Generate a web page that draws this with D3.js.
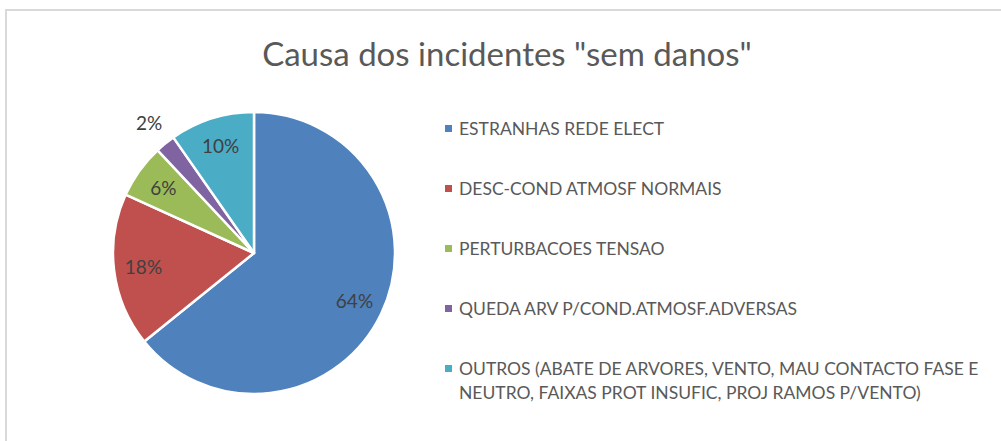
<!DOCTYPE html>
<html><head><meta charset="utf-8">
<script src="https://cdn.jsdelivr.net/npm/d3@7"></script>
<style>body{margin:0;background:#fff}svg{display:block}</style>
</head><body>
<svg id="c" width="1001" height="441"></svg>
<script>
const title = 'Causa dos incidentes "sem danos"';
const categories = [
  "ESTRANHAS REDE ELECT",
  "DESC-COND ATMOSF NORMAIS",
  "PERTURBACOES TENSAO",
  "QUEDA ARV P/COND.ATMOSF.ADVERSAS",
  "OUTROS (ABATE DE ARVORES, VENTO, MAU CONTACTO FASE E|NEUTRO, FAIXAS PROT INSUFIC, PROJ RAMOS P/VENTO)"
];
const values = [64.2, 17.6, 6.2, 2.3, 9.7];
const labels = ["64%", "18%", "6%", "2%", "10%"];
const colors = ["#4f81bd", "#c0504d", "#9bbb59", "#8064a2", "#4bacc6"];

const svg = d3.select("#c");
const font = "Lato, 'Open Sans', sans-serif";
const txt = "#595959";

svg.append("rect").attr("x", 6).attr("y", 10).attr("width", 1010).attr("height", 450)
  .attr("fill", "#fff").attr("stroke", "#d9d9d9").attr("stroke-width", 2);

svg.append("text").attr("x", 507).attr("y", 66).attr("text-anchor", "middle")
  .attr("font-family", font).attr("font-size", 33).attr("fill", txt).text(title);

const cx = 254, cy = 253, r = 141;
const pie = d3.pie().sort(null).value(d => d);
const arcs = pie(values);
const arc = d3.arc().innerRadius(0).outerRadius(r);
const g = svg.append("g").attr("transform", `translate(${cx},${cy})`);
g.selectAll("path").data(arcs).join("path")
  .attr("d", arc).attr("fill", (d, i) => colors[i])
  .attr("stroke", "#fff").attr("stroke-width", 2.5).attr("stroke-linejoin", "round");

const labelR = [0.79, 0.79, 0.79, 1.18, 0.79];
g.selectAll("text.lbl").data(arcs).join("text").attr("class", "lbl")
  .attr("transform", (d, i) => {
    const a = d3.arc().innerRadius(r * labelR[i]).outerRadius(r * labelR[i]);
    return `translate(${a.centroid(d)})`;
  })
  .attr("text-anchor", "middle").attr("dy", "0.35em")
  .attr("font-family", font).attr("font-size", 19).attr("fill", "#404040")
  .text((d, i) => labels[i]);

const legY = d3.scalePoint().domain(d3.range(categories.length)).range([129, 369]);
const leg = svg.append("g");
categories.forEach((c, i) => {
  const y = legY(i);
  leg.append("rect").attr("x", 445).attr("y", y - 4).attr("width", 7).attr("height", 7).attr("fill", colors[i]);
  const t = leg.append("text").attr("x", 459).attr("y", y).attr("dy", "0.35em")
    .attr("font-family", font).attr("font-size", 17.5).attr("fill", txt);
  c.split("|").forEach((line, k) => {
    t.append("tspan").attr("x", 459).attr("dy", k === 0 ? "0.35em" : 24).text(line);
  });
});
</script>
</body></html>
